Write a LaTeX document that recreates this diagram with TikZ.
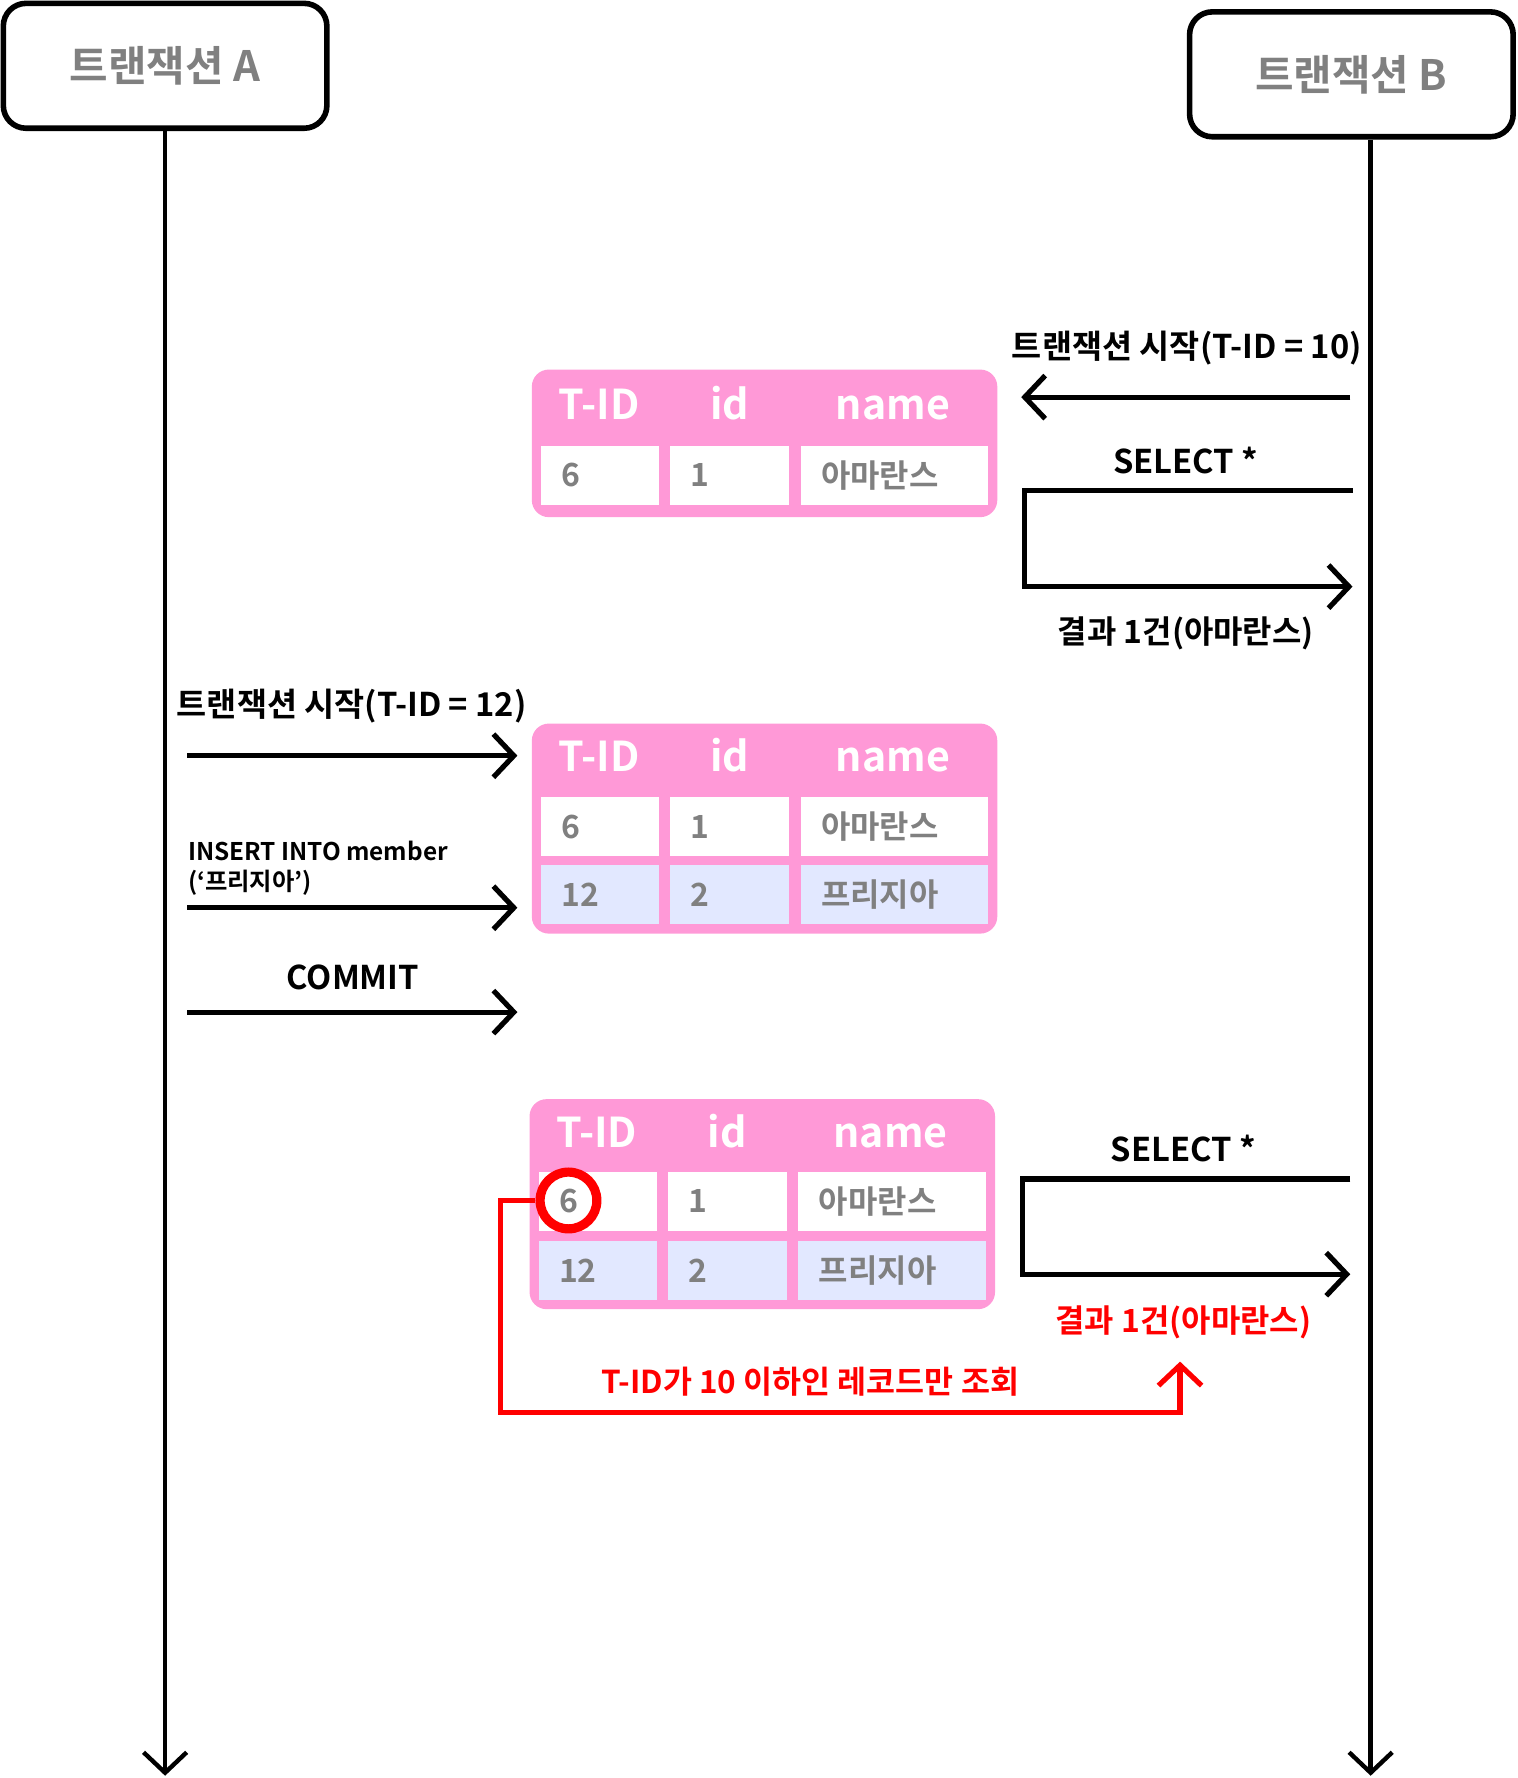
\documentclass[tikz,border=0pt]{standalone}
\usepackage{fontspec}
\setmainfont{Noto Sans CJK KR}[BoldFont={* Bold}]
\usetikzlibrary{arrows.meta,positioning}

\definecolor{tabpink}{HTML}{FF99D7}
\definecolor{rowblue}{HTML}{E2E8FF}
\definecolor{txtgray}{HTML}{808080}
\definecolor{hitred}{HTML}{FF0000}

\begin{document}
\begin{tikzpicture}[
            x = 0.01cm, y = -0.01cm, % pixel grid, y goes down
            > = {Straight Barb[length=1.8mm, width=3.8mm]}, % open arrow head
            txbox/.style = {draw, line width=1.4pt, rounded corners=2mm, minimum width=2.85cm, minimum height=1.1cm, text=txtgray, font=\fontsize{10.5}{12}\selectfont\bfseries},
            life/.style = {line width=1.1pt, ->},
            msg/.style = {line width=1.3pt, ->},
            lbl/.style = {font=\fontsize{8.2}{10}\selectfont\bfseries},
            tab/.style = {fill=tabpink, rounded corners=1.5mm, minimum width=4.1cm, anchor=north west},
            hdr/.style = {text=white, anchor=base, font=\fontsize{10.3}{12}\selectfont\bfseries},
            cell/.style = {fill=white, text=txtgray, font=\fontsize{8}{9}\selectfont\bfseries, inner xsep=0.18cm, inner ysep=0pt, minimum height=0.52cm, anchor=north west, align=left},
            newrow/.style = {cell, fill=rowblue},
            c1/.style = {text width=0.68cm},
            c2/.style = {text width=0.69cm},
            c3/.style = {text width=1.29cm},
            hit/.style = {draw=hitred, line width=1.3pt}
        ]
	\useasboundingbox (0,0) rectangle (1337,1567);

	% transactions and life lines
	\node[txbox] (txa) at (145.5,58) {트랜잭션 A};
	\node[txbox] (txb) at (1191,65.5) {트랜잭션 B};
	\coordinate (enda) at (145.5,1565);
	\coordinate (endb) at (1208,1565);
	\draw[life] (txa) -- (enda);
	\draw[life] (endb |- txb.south) -- (endb);

	% first table
	\node[tab, minimum height=1.3cm] (tab1) at (468,325) {};
	\node[hdr] (tab1h1) at (528,370) {T-ID};
	\node[hdr] (tab1h2) at (643,370) {id};
	\node[hdr] (tab1h3) at (787,370) {name};
	\node[cell, c1] (tab1a) at (476,392) {6};
	\node[cell, c2] (tab1b) at (590,392) {1};
	\node[cell, c3] (tab1c) at (705,392) {아마란스};

	% second table
	\node[tab, minimum height=1.85cm] (tab2) at (468,637) {};
	\node[hdr] (tab2h1) at (528,680) {T-ID};
	\node[hdr] (tab2h2) at (643,680) {id};
	\node[hdr] (tab2h3) at (787,680) {name};
	\node[cell, c1] (tab2a) at (476,702) {6};
	\node[cell, c2] (tab2b) at (590,702) {1};
	\node[cell, c3] (tab2c) at (705,702) {아마란스};
	\node[newrow, c1] (tab2d) at (476,762) {12};
	\node[newrow, c2] (tab2e) at (590,762) {2};
	\node[newrow, c3] (tab2f) at (705,762) {프리지아};

	% third table
	\node[tab, minimum height=1.85cm] (tab3) at (466,968) {};
	\node[hdr] (tab3h1) at (526,1011) {T-ID};
	\node[hdr] (tab3h2) at (641,1011) {id};
	\node[hdr] (tab3h3) at (785,1011) {name};
	\node[cell, c1] (tab3a) at (474,1032) {6};
	\node[cell, c2] (tab3b) at (588,1032) {1};
	\node[cell, c3] (tab3c) at (703,1032) {아마란스};
	\node[newrow, c1] (tab3d) at (474,1093) {12};
	\node[newrow, c2] (tab3e) at (588,1093) {2};
	\node[newrow, c3] (tab3f) at (703,1093) {프리지아};
	\node[circle, draw=hitred, line width=2.3pt, minimum size=0.5cm, inner sep=0pt] (mark) at (501,1058) {};

	% transaction B, first read
	\node[lbl] (beginb) at (1046,307) {트랜잭션 시작(T-ID = 10)};
	\coordinate (b1s) at (1190,350);
	\coordinate (b1e) at (900,350);
	\draw[msg] (b1s) -- (b1e);
	\node[lbl] (sel1) at (1045,406) {SELECT *};
	\coordinate (sel1s) at (1192,432);
	\coordinate (sel1m) at (903,475);
	\coordinate (sel1e) at (1192,517);
	\draw[msg] (sel1s) -| (sel1m) |- (sel1e);
	\node[lbl, font=\fontsize{8}{10}\selectfont\bfseries] (res1) at (1045,558) {결과 1건(아마란스)};

	% transaction A
	\node[lbl] (begina) at (310,622) {트랜잭션 시작(T-ID = 12)};
	\coordinate (a1s) at (165,666);
	\coordinate (a1e) at (456,666);
	\draw[msg] (a1s) -- (a1e);
	\node[anchor=west, align=left, inner sep=0pt, font=\fontsize{6.1}{7.6}\selectfont\bfseries] (ins) at (165,765) {INSERT INTO member\\(‘프리지아’)};
	\coordinate (a2s) at (165,800);
	\coordinate (a2e) at (456,800);
	\draw[msg] (a2s) -- (a2e);
	\node[lbl] (commit) at (311,861) {COMMIT};
	\coordinate (a3s) at (165,892);
	\coordinate (a3e) at (456,892);
	\draw[msg] (a3s) -- (a3e);

	% transaction B, second read
	\node[lbl] (sel2) at (1043,1012) {SELECT *};
	\coordinate (sel2s) at (1190,1039);
	\coordinate (sel2m) at (901,1081);
	\coordinate (sel2e) at (1190,1123);
	\draw[msg] (sel2s) -| (sel2m) |- (sel2e);
	\node[lbl, text=hitred, font=\fontsize{8}{10}\selectfont\bfseries] (res2) at (1043,1165) {결과 1건(아마란스)};
	\node[lbl, text=hitred, font=\fontsize{7.9}{10}\selectfont\bfseries] (cond) at (714,1218) {T-ID가 10 이하인 레코드만 조회};
	\coordinate (r1) at (441,1245);
	\coordinate (r2) at (1040,1200);
	\draw[hit, ->] (mark.west) -| (r1) -| (r2);

\end{tikzpicture}
\end{document}
